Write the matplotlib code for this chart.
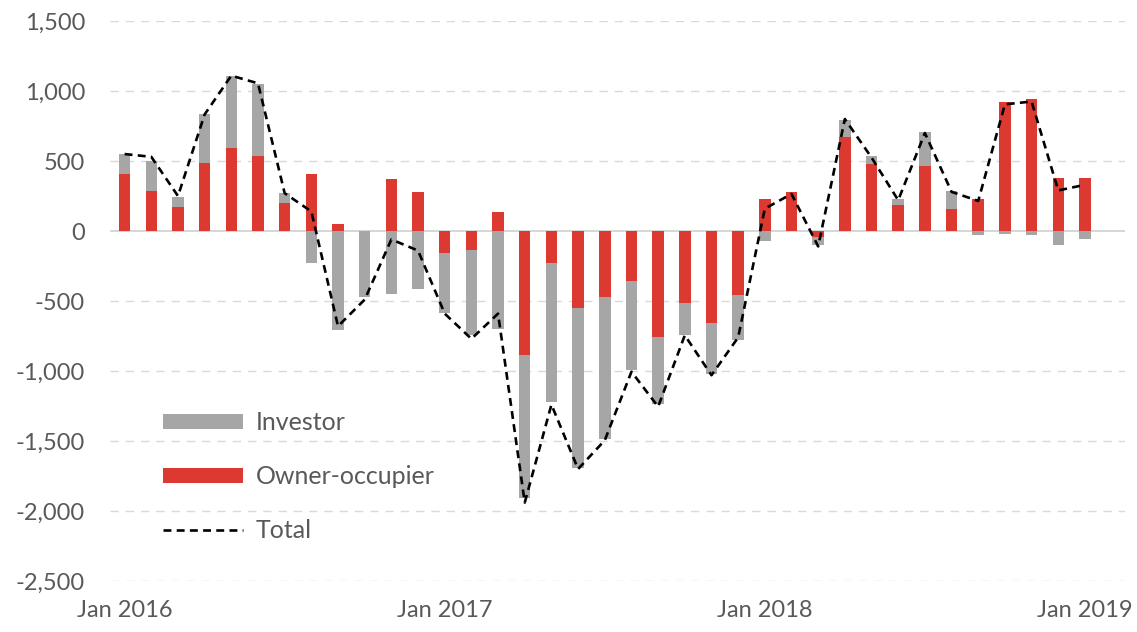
import matplotlib.pyplot as plt
import numpy as np

plt.rcParams['font.family'] = ['Lato', 'DejaVu Sans']

# monthly values, Jan 2016 .. Jan 2019
months = ['Jan 2016', 'Feb 2016', 'Mar 2016', 'Apr 2016', 'May 2016', 'Jun 2016',
          'Jul 2016', 'Aug 2016', 'Sep 2016', 'Oct 2016', 'Nov 2016', 'Dec 2016',
          'Jan 2017', 'Feb 2017', 'Mar 2017', 'Apr 2017', 'May 2017', 'Jun 2017',
          'Jul 2017', 'Aug 2017', 'Sep 2017', 'Oct 2017', 'Nov 2017', 'Dec 2017',
          'Jan 2018', 'Feb 2018', 'Mar 2018', 'Apr 2018', 'May 2018', 'Jun 2018',
          'Jul 2018', 'Aug 2018', 'Sep 2018', 'Oct 2018', 'Nov 2018', 'Dec 2018',
          'Jan 2019']
owner = [410, 286, 171, 488, 590, 536, 200, 405, 50, 0, 371, 281,
         -157, -137, 137, -888, -228, -552, -468, -360, -756, -516, -660, -456,
         228, 276, -43, 671, 481, 183, 462, 159, 231, 921, 945, 381,
         381]
investor = [142, 214, 72, 345, 517, 516, 74, -231, -707, -469, -450, -417,
            -432, -607, -703, -1020, -996, -1140, -1020, -636, -480, -228, -360, -319,
            -71, 0, -59, 124, 52, 48, 245, 127, -31, -19, -31, -102,
            -55]
total = [550, 530, 250, 833, 1110, 1055, 270, 140, -680, -490, -60, -140,
         -590, -770, -590, -1940, -1240, -1700, -1495, -1005, -1255, -745, -1030, -760,
         160, 265, -110, 800, 525, 220, 700, 280, 215, 905, 925, 290,
         330]
tick_labels = ['Jan 2016', 'Jan 2017', 'Jan 2018', 'Jan 2019']

red = '#DC3A30'
grey = '#A6A6A6'
txt = '#595959'

x = np.arange(len(months))
own = np.array(owner)
inv = np.array(investor)
inv_bottom = np.where(np.sign(inv) == np.sign(own), own, 0)

fig = plt.figure(figsize=(11.37, 6.32), dpi=100)
ax = fig.add_axes([0.0967, 0.0807, 0.8927, 0.886])

for y in range(-2500, 1501, 500):
    if y == 0:
        ax.axhline(0, color='#D0D0D0', lw=1.2, zorder=0)
    else:
        ax.axhline(y, color='#D9D9D9', lw=1.0, ls=(0, (6, 5)), zorder=0)

ax.bar(x, inv, bottom=inv_bottom, width=0.43, color=grey, label='Investor', zorder=2)
ax.bar(x, own, width=0.43, color=red, label='Owner-occupier', zorder=2)
ax.plot(x, total, color='black', lw=1.9, ls=(0, (3, 2)), label='Total', zorder=3)

ax.set_ylim(-2500, 1500)
ax.set_xlim(-0.55, 37.5)
yt = list(range(-2500, 1501, 500))
ax.set_yticks(yt)
ax.set_yticklabels([f'{v:,}' for v in yt])
ax.set_xticks([months.index(t) for t in tick_labels])
ax.set_xticklabels(tick_labels)
ax.tick_params(axis='both', length=0, labelsize=17, labelcolor=txt)
ax.tick_params(axis='y', pad=18)
ax.tick_params(axis='x', pad=14)
for s in ax.spines.values():
    s.set_visible(False)

handles, labels = ax.get_legend_handles_labels()
order = [labels.index(n) for n in ['Investor', 'Owner-occupier', 'Total']]
leg = ax.legend([handles[i] for i in order], [labels[i] for i in order],
                loc='upper left', bbox_to_anchor=(0.1328, 0.369),
                bbox_transform=fig.transFigure, frameon=False,
                fontsize=18, handlelength=3.2, handleheight=0.55,
                handletextpad=0.5, labelspacing=1.23, borderpad=0)
for t in leg.get_texts():
    t.set_color(txt)

fig.savefig('out.png', dpi=100)
